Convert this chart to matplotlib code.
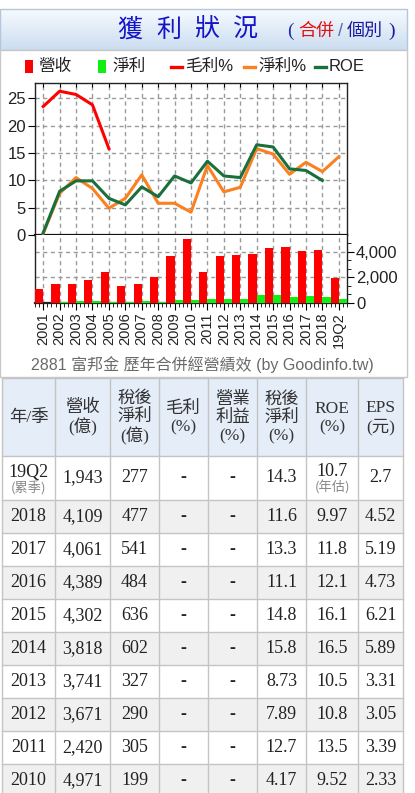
import numpy as np
import matplotlib
matplotlib.use('Agg')
import matplotlib.pyplot as plt
from matplotlib.patches import Rectangle
from matplotlib.lines import Line2D
from matplotlib.colors import LinearSegmentedColormap
from matplotlib.ticker import FuncFormatter, MultipleLocator, AutoMinorLocator, FixedLocator

nan = np.nan
# ---------------- chart data ----------------
categories = ['2001', '2002', '2003', '2004', '2005', '2006', '2007', '2008', '2009', '2010',
              '2011', '2012', '2013', '2014', '2015', '2016', '2017', '2018', '19Q2']
revenue = [1120, 1460, 1460, 1780, 2400, 1330, 1460, 1990, 3660, 4971,
           2420, 3671, 3741, 3818, 4302, 4389, 4061, 4109, 1943]
net_profit = [5, 110, 150, 155, 115, 90, 160, 115, 210, 199,
              305, 290, 327, 602, 636, 484, 541, 477, 277]
gross_margin_pct = [23.5, 26.3, 25.7, 23.8, 15.8, nan, nan, nan, nan, nan,
                    nan, nan, nan, nan, nan, nan, nan, nan, nan]
net_margin_pct = [0.3, 7.6, 10.5, 8.5, 4.9, 6.7, 11.0, 5.8, 5.8, 4.17,
                  12.7, 7.89, 8.73, 15.8, 14.8, 11.1, 13.3, 11.6, 14.3]
roe_pct = [0.4, 8.0, 9.9, 9.9, 6.7, 5.5, 8.8, 7.0, 10.8, 9.52,
           13.5, 10.8, 10.5, 16.5, 16.1, 12.1, 11.8, 9.97, nan]

# ---------------- table data ----------------
table_header = ['年/季', '營收\n(億)', '稅後\n淨利\n(億)', '毛利\n(%)', '營業\n利益\n(%)',
                '稅後\n淨利\n(%)', 'ROE\n(%)', 'EPS\n(元)']
table_period = ['19Q2', '2018', '2017', '2016', '2015', '2014', '2013', '2012', '2011', '2010']
table_revenue = [1943, 4109, 4061, 4389, 4302, 3818, 3741, 3671, 2420, 4971]
table_net_profit = [277, 477, 541, 484, 636, 602, 327, 290, 305, 199]
table_gross_pct = ['-'] * 10
table_op_pct = ['-'] * 10
table_net_pct = ['14.3', '11.6', '13.3', '11.1', '14.8', '15.8', '8.73', '7.89', '12.7', '4.17']
table_roe = ['10.7', '9.97', '11.8', '12.1', '16.1', '16.5', '10.5', '10.8', '13.5', '9.52']
table_eps = ['2.7', '4.52', '5.19', '4.73', '6.21', '5.89', '3.31', '3.05', '3.39', '2.33']

# ---------------- styling ----------------
RED = '#FF0000'
GREEN = '#11EE11'
ORANGE = '#FA8020'
DKGREEN = '#19703C'
SANS = ['Liberation Sans', 'Noto Sans CJK TC', 'DejaVu Sans']
SERIF = ['Liberation Serif', 'Noto Sans CJK TC', 'DejaVu Sans']
CJK = ['Noto Sans CJK TC', 'DejaVu Sans']
plt.rcParams['font.family'] = SANS

W, H = 415, 793
fig = plt.figure(figsize=(W / 100, H / 100), dpi=100)
fig.patch.set_facecolor('white')

bg = fig.add_axes([0, 0, 1, 1])
bg.set_axis_off()

# header gradient
cmap = LinearSegmentedColormap.from_list('hdr', ['#F6FAFE', '#CCDDF1'])
bg.imshow(np.linspace(0, 1, 60).reshape(-1, 1), cmap=cmap, extent=(0, 407, 50, 9),
          aspect='auto', interpolation='bilinear', zorder=0)
bg.add_patch(Rectangle((0, 9), 407, 41, fill=False, edgecolor='#B4C6DC', lw=1, zorder=1))
# chart panel
bg.add_patch(Rectangle((0, 50), 407, 327, facecolor='white', edgecolor='#C8C8C8', lw=1, zorder=1))
bg.set_xlim(0, W)
bg.set_ylim(H, 0)

# title
for ch, cx in zip('獲利狀況', [130, 168.5, 207, 245.5]):
    bg.text(cx, 30, ch, ha='center', va='center', fontsize=18, color='#1414C8', family=CJK, zorder=2)
bg.text(290, 31, '(', ha='center', va='center', fontsize=14, color='#2030B0', family=SERIF, zorder=2)
bg.text(316, 31, '合併', ha='center', va='center', fontsize=13, color='#E01010', family=CJK, zorder=2)
bg.text(340, 31, '/', ha='center', va='center', fontsize=13, color='#5A6AA8', family=SANS, zorder=2)
bg.text(365, 31, '個別', ha='center', va='center', fontsize=13, color='#1A1AA0', family=CJK, zorder=2)
bg.text(392, 31, ')', ha='center', va='center', fontsize=14, color='#1A1AA0', family=SERIF, zorder=2)

# legend
bg.add_patch(Rectangle((25, 60), 8, 13, facecolor=RED, edgecolor='none', zorder=2))
bg.text(38, 66.5, '營收', ha='left', va='center', fontsize=12, color='#222222', family=SANS, zorder=2)
bg.add_patch(Rectangle((98, 60), 8, 13, facecolor=GREEN, edgecolor='none', zorder=2))
bg.text(112, 66.5, '淨利', ha='left', va='center', fontsize=12, color='#222222', family=SANS, zorder=2)
for (x0, col, lab) in [(171, RED, '毛利%'), (244, ORANGE, '淨利%'), (315, DKGREEN, 'ROE')]:
    bg.add_line(Line2D([x0, x0 + 11], [66.5, 66.5], color=col, lw=2.4, zorder=2))
    bg.text(x0 + 14, 66.5, lab, ha='left', va='center', fontsize=12, color='#222222', family=SANS, zorder=2)

# caption
bg.text(202, 365, '2881 富邦金 歷年合併經營績效 (by Goodinfo.tw)', ha='center', va='center',
        fontsize=11.5, color='#6A6A6A', family=SANS, zorder=2)

# ---------------- table ----------------
col_edges = [2, 55, 110, 159, 208, 257, 306, 358, 403]
row_edges = [378, 456, 500] + [500 + 33 * (i + 1) for i in range(9)]
GRID = '#C4C4C4'
bg.add_patch(Rectangle((col_edges[0], row_edges[0]), col_edges[-1] - col_edges[0],
                       row_edges[1] - row_edges[0], facecolor='#E4EDF8', edgecolor='none', zorder=1))
for i in range(len(table_period)):
    fc = 'white' if i % 2 == 0 else '#F0F0F0'
    bg.add_patch(Rectangle((col_edges[0], row_edges[i + 1]), col_edges[-1] - col_edges[0],
                           row_edges[i + 2] - row_edges[i + 1], facecolor=fc, edgecolor='none', zorder=1))
for x in col_edges:
    bg.add_line(Line2D([x, x], [row_edges[0], row_edges[-1]], color=GRID, lw=1, zorder=2))
for y in row_edges:
    bg.add_line(Line2D([col_edges[0], col_edges[-1]], [y, y], color=GRID, lw=1, zorder=2))

centers = [(col_edges[i] + col_edges[i + 1]) / 2 for i in range(8)]
hy = (row_edges[0] + row_edges[1]) / 2 + 1
for cx, h in zip(centers, table_header):
    bg.text(cx, hy, h, ha='center', va='center', fontsize=12.5, color='#333333',
            family=SERIF, linespacing=1.18, zorder=3)

TXT = '#222222'
for i in range(len(table_period)):
    cy = (row_edges[i + 1] + row_edges[i + 2]) / 2
    vals = [table_period[i], f'{table_revenue[i]:,}', str(table_net_profit[i]), table_gross_pct[i],
            table_op_pct[i], table_net_pct[i], table_roe[i], table_eps[i]]
    for j, (cx, v) in enumerate(zip(centers, vals)):
        ty = cy
        if i == 0 and j in (0, 6):
            ty = cy - 6
        fw = 'bold' if v == '-' else 'normal'
        bg.text(cx, ty, v, ha='center', va='center', fontsize=13, color=TXT, family=SERIF,
                fontweight=fw, zorder=3)
    if i == 0:
        bg.text(centers[0], cy + 10, '(累季)', ha='center', va='center', fontsize=9.5,
                color='#888888', family=CJK, zorder=3)
        bg.text(centers[6], cy + 10, '(年估)', ha='center', va='center', fontsize=9.5,
                color='#888888', family=CJK, zorder=3)


# ---------------- chart axes ----------------
def frac(x0, y0, x1, y1):
    return [x0 / W, 1 - y1 / H, (x1 - x0) / W, (y1 - y0) / H]


x = np.arange(len(categories))
DASH = (0, (3, 2.5))
GRIDC = '#9A9A9A'

ax = fig.add_axes(frac(35, 83, 347, 235))
ax.set_xlim(-0.5, 18.5)
ax.set_ylim(0, 27.8)
ax.plot(x, gross_margin_pct, color=RED, lw=2.2, zorder=3)
ax.plot(x, net_margin_pct, color=ORANGE, lw=2.2, zorder=3)
ax.plot(x, roe_pct, color=DKGREEN, lw=2.2, zorder=4)
ax.set_yticks([0, 5, 10, 15, 20, 25])
ax.set_xticks(x)
ax.grid(True, color=GRIDC, lw=1, linestyle=DASH)
ax.set_axisbelow(True)
ax.tick_params(axis='x', bottom=False, top=True, direction='in', length=3, labelbottom=False)
ax.tick_params(axis='y', left=True, direction='out', length=5, pad=1.5, labelsize=12,
               labelcolor='#222222')
for s in ax.spines.values():
    s.set_color('#222222')
    s.set_linewidth(1)
ax.spines['bottom'].set_linewidth(1.6)
ax.spines['bottom'].set_color('#111111')

bx = fig.add_axes(frac(35, 235, 347, 303))
bx.set_xlim(-0.5, 18.5)
bx.set_ylim(0, 5300)
bx.bar(x - 0.25, revenue, width=0.5, color=RED, zorder=3)
bx.bar(x + 0.25, net_profit, width=0.5, color=GREEN, zorder=3)
bx.set_xticks(x)
bx.set_xticklabels(categories, rotation=90, fontsize=10.5, color='#222222')
bx.xaxis.set_minor_locator(AutoMinorLocator(4))
bx.tick_params(axis='x', which='major', direction='out', length=5, pad=2)
bx.tick_params(axis='x', which='minor', direction='out', length=3)
bx.yaxis.tick_right()
bx.set_yticks([0, 2000, 4000])
bx.yaxis.set_major_formatter(FuncFormatter(lambda v, p: f'{int(v):,}'))
bx.yaxis.set_minor_locator(MultipleLocator(2000 / 3))
bx.tick_params(axis='y', which='major', direction='out', length=5, pad=1.5, labelsize=12,
               labelcolor='#222222')
bx.tick_params(axis='y', which='minor', direction='out', length=3)
bx.grid(True, which='major', color=GRIDC, lw=1, linestyle=DASH)
bx.set_axisbelow(True)
bx.spines['top'].set_visible(False)
for s in ['left', 'right', 'bottom']:
    bx.spines[s].set_color('#222222')
    bx.spines[s].set_linewidth(1)
bx.spines['bottom'].set_linewidth(1.6)

fig.savefig('out.png', dpi=100, facecolor='white')
